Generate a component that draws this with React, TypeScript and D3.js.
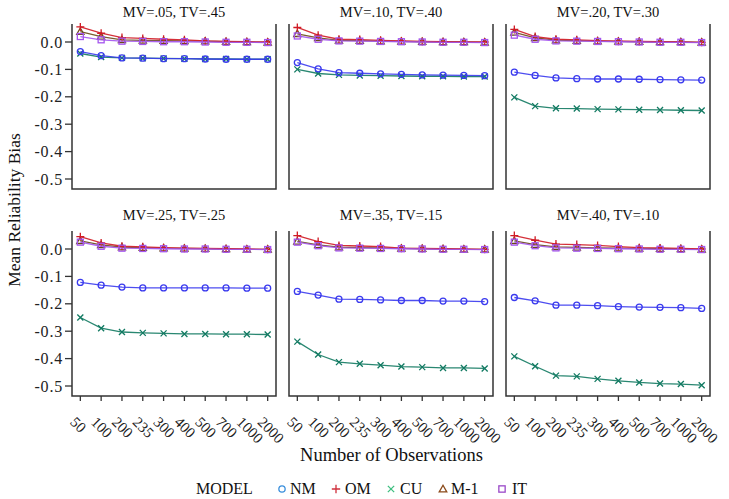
import React from "react";
import * as d3 from "d3";

const categories = ["50", "100", "200", "235", "300", "400", "500", "700", "1000", "2000"];
const panelTitles = ["MV=.05, TV=.45", "MV=.10, TV=.40", "MV=.20, TV=.30", "MV=.25, TV=.25", "MV=.35, TV=.15", "MV=.40, TV=.10"];
const yTicks = [0.0, -0.1, -0.2, -0.3, -0.4, -0.5];
const models = ["NM", "OM", "CU", "M-1", "IT"];

// values per panel, per model
const nmValues = [
  [-0.035, -0.05, -0.058, -0.059, -0.061, -0.061, -0.062, -0.063, -0.063, -0.063],
  [-0.075, -0.098, -0.112, -0.114, -0.116, -0.118, -0.12, -0.121, -0.122, -0.123],
  [-0.11, -0.122, -0.131, -0.134, -0.135, -0.135, -0.136, -0.137, -0.138, -0.139],
  [-0.122, -0.132, -0.139, -0.142, -0.142, -0.142, -0.142, -0.142, -0.143, -0.143],
  [-0.155, -0.168, -0.183, -0.184, -0.186, -0.188, -0.188, -0.19, -0.19, -0.192],
  [-0.177, -0.189, -0.205, -0.205, -0.207, -0.21, -0.212, -0.213, -0.214, -0.217],
];
const cuValues = [
  [-0.042, -0.055, -0.058, -0.059, -0.06, -0.061, -0.062, -0.062, -0.063, -0.063],
  [-0.1, -0.115, -0.12, -0.122, -0.123, -0.124, -0.125, -0.125, -0.126, -0.126],
  [-0.202, -0.234, -0.242, -0.243, -0.245, -0.246, -0.247, -0.248, -0.249, -0.25],
  [-0.25, -0.289, -0.303, -0.306, -0.308, -0.31, -0.31, -0.311, -0.311, -0.312],
  [-0.338, -0.385, -0.413, -0.419, -0.424, -0.429, -0.431, -0.434, -0.434, -0.436],
  [-0.392, -0.428, -0.462, -0.465, -0.474, -0.481, -0.487, -0.491, -0.493, -0.497],
];
const omValues = [
  [0.055, 0.032, 0.016, 0.013, 0.01, 0.008, 0.004, 0.002, 0.001, 0.0],
  [0.053, 0.025, 0.01, 0.009, 0.006, 0.004, 0.002, 0.001, 0.0, 0.0],
  [0.046, 0.02, 0.01, 0.008, 0.005, 0.003, 0.002, 0.001, 0.0, -0.001],
  [0.045, 0.022, 0.01, 0.008, 0.005, 0.003, 0.002, 0.001, 0.0, -0.001],
  [0.049, 0.027, 0.013, 0.011, 0.009, 0.003, 0.002, 0.001, 0.0, -0.001],
  [0.049, 0.032, 0.018, 0.016, 0.013, 0.009, 0.005, 0.004, 0.002, 0.0],
];
const m1Values = [
  [0.038, 0.02, 0.008, 0.006, 0.005, 0.004, 0.003, 0.001, 0.0, -0.001],
  [0.03, 0.015, 0.006, 0.005, 0.003, 0.002, 0.001, 0.0, 0.0, -0.001],
  [0.035, 0.015, 0.007, 0.005, 0.003, 0.002, 0.001, 0.0, 0.0, -0.001],
  [0.03, 0.015, 0.007, 0.005, 0.003, 0.002, 0.001, 0.0, -0.001, -0.001],
  [0.028, 0.015, 0.007, 0.005, 0.004, 0.002, 0.001, 0.0, -0.001, -0.001],
  [0.03, 0.016, 0.008, 0.006, 0.004, 0.003, 0.002, 0.001, 0.0, -0.001],
];
const itValues = [
  [0.02, 0.008, 0.003, 0.002, 0.001, 0.001, 0.0, -0.001, -0.001, -0.002],
  [0.022, 0.01, 0.004, 0.003, 0.002, 0.001, 0.0, -0.001, -0.001, -0.002],
  [0.025, 0.01, 0.004, 0.003, 0.002, 0.001, 0.0, -0.001, -0.001, -0.002],
  [0.025, 0.01, 0.003, 0.002, 0.001, 0.0, 0.0, -0.001, -0.001, -0.002],
  [0.025, 0.012, 0.004, 0.003, 0.002, 0.001, 0.0, -0.001, -0.001, -0.002],
  [0.025, 0.012, 0.004, 0.003, 0.002, 0.001, 0.0, -0.001, -0.001, -0.002],
];

const seriesValues: Record<string, number[][]> = { NM: nmValues, OM: omValues, CU: cuValues, "M-1": m1Values, IT: itValues };
const lineColors: Record<string, string> = { NM: "#3a3aee", OM: "#d01a24", CU: "#127a62", "M-1": "#6a4a18", IT: "#a455ee" };
const legendColors: Record<string, string> = { NM: "#3a8fdc", OM: "#d0303c", CU: "#3fbf80", "M-1": "#8b4a1a", IT: "#9a48c8" };
const drawOrder = ["CU", "NM", "M-1", "OM", "IT"];

const FONT = "'Liberation Serif', 'DejaVu Serif', serif";
const colX = [72, 289, 506];
const rowY = [[24, 189], [231, 396]];
const titleY = [17, 220];
const PW = 204;
const Y_DOMAIN: [number, number] = [-0.5365, 0.0657];

function Marker({ model, x, y, color, s = 1 }: { model: string; x: number; y: number; color: string; s?: number }) {
  const sw = 1.3;
  if (model === "NM") return <circle cx={x} cy={y} r={3 * s} fill="none" stroke={color} strokeWidth={sw} />;
  if (model === "OM") {
    const a = 4 * s;
    return <path d={`M${x - a},${y}H${x + a}M${x},${y - a}V${y + a}`} stroke={color} strokeWidth={sw} fill="none" />;
  }
  if (model === "CU") {
    const a = 3 * s;
    return <path d={`M${x - a},${y - a}L${x + a},${y + a}M${x - a},${y + a}L${x + a},${y - a}`} stroke={color} strokeWidth={sw} fill="none" />;
  }
  if (model === "M-1") {
    const a = 3.6 * s;
    return <path d={`M${x},${y - a}L${x + a},${y + a * 0.75}L${x - a},${y + a * 0.75}Z`} stroke={color} strokeWidth={sw} fill="none" />;
  }
  const a = 3 * s;
  return <rect x={x - a} y={y - a} width={2 * a} height={2 * a} stroke={color} strokeWidth={sw} fill="none" />;
}

export default function App() {
  const xScale = d3.scalePoint<string>().domain(categories).range([0, PW]).padding(0.4);
  const legendX = [282, 336, 391, 443, 502];
  const legendTextX = [290, 345, 400, 451, 512];
  return (
    <svg width={729} height={499} style={{ position: "absolute", left: 0, top: 0, background: "#fff" }} fontFamily={FONT}>
      {panelTitles.map((title, pi) => {
        const row = Math.floor(pi / 3);
        const col = pi % 3;
        const x0 = colX[col];
        const [y0, y1] = rowY[row];
        const yScale = d3.scaleLinear().domain(Y_DOMAIN).range([y1, y0]);
        const line = d3
          .line<number>()
          .x((_, i) => x0 + (xScale(categories[i]) as number))
          .y((v) => yScale(v));
        return (
          <g key={pi}>
            <text x={x0 + PW / 2} y={titleY[row]} textAnchor="middle" fontSize={14.5} fill="#111">{title}</text>
            {drawOrder.map((m) => (
              <g key={m}>
                <path d={line(seriesValues[m][pi]) || ""} fill="none" stroke={lineColors[m]} strokeWidth={1.3} strokeOpacity={0.9} />
                {seriesValues[m][pi].map((v, i) => (
                  <Marker key={i} model={m} x={x0 + (xScale(categories[i]) as number)} y={yScale(v)} color={lineColors[m]} />
                ))}
              </g>
            ))}
            <path d={`M${x0},${y0}V${y1}H${x0 + PW}V${y0}`} fill="none" stroke="#333" strokeWidth={1.5} />
            {col === 0 &&
              yTicks.map((t) => (
                <g key={t}>
                  <line x1={x0 - 7} x2={x0} y1={yScale(t)} y2={yScale(t)} stroke="#333" strokeWidth={1.3} />
                  <text x={x0 - 9} y={yScale(t)} dy="0.35em" textAnchor="end" fontSize={16} fill="#222" letterSpacing={0.8}>
                    {t === 0 ? "0.0" : "-" + Math.abs(t).toFixed(1)}
                  </text>
                </g>
              ))}
            {row === 1 &&
              categories.map((c) => {
                const tx = x0 + (xScale(c) as number);
                return (
                  <g key={c}>
                    <line x1={tx} x2={tx} y1={y1} y2={y1 + 5} stroke="#333" strokeWidth={1.3} />
                    <text transform={`translate(${tx - 11},${y1 + 27}) rotate(45)`} fontSize={15} fill="#222">{c}</text>
                  </g>
                );
              })}
          </g>
        );
      })}
      <text transform="translate(20,210) rotate(-90)" textAnchor="middle" fontSize={17.5} fill="#111">Mean Reliability Bias</text>
      <text x={391.5} y={461} textAnchor="middle" fontSize={18.5} fill="#111">Number of Observations</text>
      <text x={196} y={494} fontSize={16} fill="#111">MODEL</text>
      {models.map((m, i) => (
        <g key={m}>
          <Marker model={m} x={legendX[i]} y={489} color={legendColors[m]} s={1.05} />
          <text x={legendTextX[i]} y={494} fontSize={16} fill="#111">{m}</text>
        </g>
      ))}
    </svg>
  );
}
